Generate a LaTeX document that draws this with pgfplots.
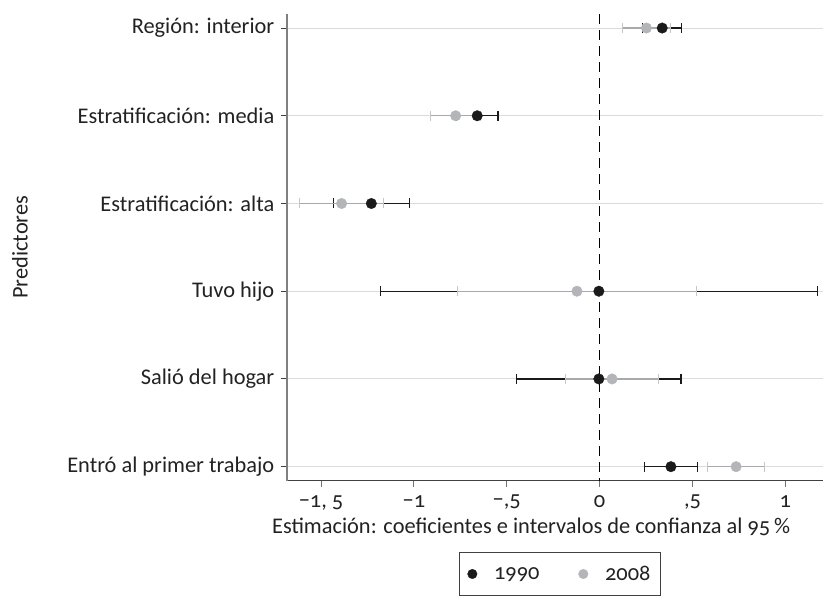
\documentclass[border=0pt]{standalone}
\usepackage{fontspec}
\setmainfont{Carlito}[Numbers=OldStyle]
\usepackage{pgfplots}
\pgfplotsset{compat=1.18}
\definecolor{dk}{HTML}{1A1A1A}
\definecolor{lg}{HTML}{B4B5B9}
\definecolor{lgl}{HTML}{A8A9AC}
\definecolor{txt}{HTML}{222222}
\newcommand{\fs}{\fontsize{22.4}{26}\selectfont}
\begin{document}
\begin{tikzpicture}
\begin{axis}[
  at={(0,0)}, anchor=south west,
  scale only axis, width=536pt, height=467pt,
  xmin=-1.684, xmax=1.2, ymin=0.84, ymax=6.16, y dir=reverse,
  axis x line*=bottom, axis y line*=left,
  x axis line style={draw=black!75, line width=1pt, -},
  y axis line style={draw=black!50, line width=1.5pt, -},
  xtick={-1.5,-1,-0.5,0,0.5,1},
  xticklabels={{−1, 5},{−1},{−,5},{0},{,5},{1}},
  ytick={1,2,3,4,5,6},
  yticklabels={{Región: interior},{Estratificación: media},{Estratificación: alta},{Tuvo hijo},{Salió del hogar},{Entró al primer trabajo}},
  tick align=outside, major tick length=6pt,
  xtick style={draw=black!55, line width=1pt},
  ytick style={draw=black!75, line width=1pt},
  ymajorgrids, grid style={draw=black!14, line width=1pt},
  tick label style={font=\fs, text=txt},
  yticklabel style={xshift=-3pt},
  xticklabel style={yshift=-5pt},
  xlabel={Estimación: coeficientes e intervalos de confianza al 95\,\%},
  ylabel={Predictores},
  label style={font=\fs, text=txt},
  x label style={at={(axis description cs:0.456,0)}, anchor=center, yshift=-46pt},
  y label style={at={(axis description cs:-0.498,0.5)}, anchor=center},
  legend style={at={(rel axis cs:0.51,0)}, anchor=north, yshift=-71pt,
    font=\fs, text=txt, draw=black!75, line width=0.8pt,
    inner xsep=8pt, inner ysep=12pt,
    /tikz/every odd column/.append style={column sep=15pt},
    /tikz/every even column/.append style={column sep=37pt}},
  legend columns=2,
  legend image post style={mark size=4.8pt},
  clip=false,
]
\addplot[forget plot, black, line width=1.3pt, dash pattern=on 10pt off 6pt] coordinates {(0,0.84) (0,6.16)};
% 1990 CI
\addplot[dk, forget plot, only marks, mark=none,
  error bars/.cd, x dir=both, x explicit,
  error bar style={dk, line width=1.2pt},
  error mark options={dk, line width=1.2pt, mark size=5pt, rotate=90}]
  table[x=e, y=y, x error=h] {
  y e h
  1 0.337 0.105
  2 -0.659 0.112
  3 -1.229 0.204
  4 -0.004 1.175
  5 -0.004 0.442
  6 0.384 0.141
};
% 1990 markers
\addplot[dk, only marks, mark=*, mark size=5.3pt, mark options={solid, fill=dk, draw=dk, line width=0.3pt}]
  table[x=e, y=y] {
  y e
  1 0.337
  2 -0.659
  3 -1.229
  4 -0.004
  5 -0.004
  6 0.384
};
\addlegendentry{1990}
% 2008 markers
\addplot[lg, only marks, mark=*, mark size=5.3pt, mark options={solid, fill=lg, draw=lg, line width=0.3pt}]
  table[x=e, y=y] {
  y e
  1 0.252
  2 -0.775
  3 -1.389
  4 -0.122
  5 0.067
  6 0.735
};
\addlegendentry{2008}
% 2008 CI
\addplot[lg, forget plot, only marks, mark=none,
  error bars/.cd, x dir=both, x explicit,
  error bar style={lgl, line width=1.2pt},
  error mark options={black!22, line width=1pt, mark size=5pt, rotate=90}]
  table[x=e, y=y, x error=h] {
  y e h
  1 0.252 0.130
  2 -0.775 0.134
  3 -1.389 0.225
  4 -0.122 0.645
  5 0.067 0.251
  6 0.735 0.153
};
\end{axis}
\path[use as bounding box] (-287pt,-108pt) rectangle (536pt,481pt);
\end{tikzpicture}
\end{document}
